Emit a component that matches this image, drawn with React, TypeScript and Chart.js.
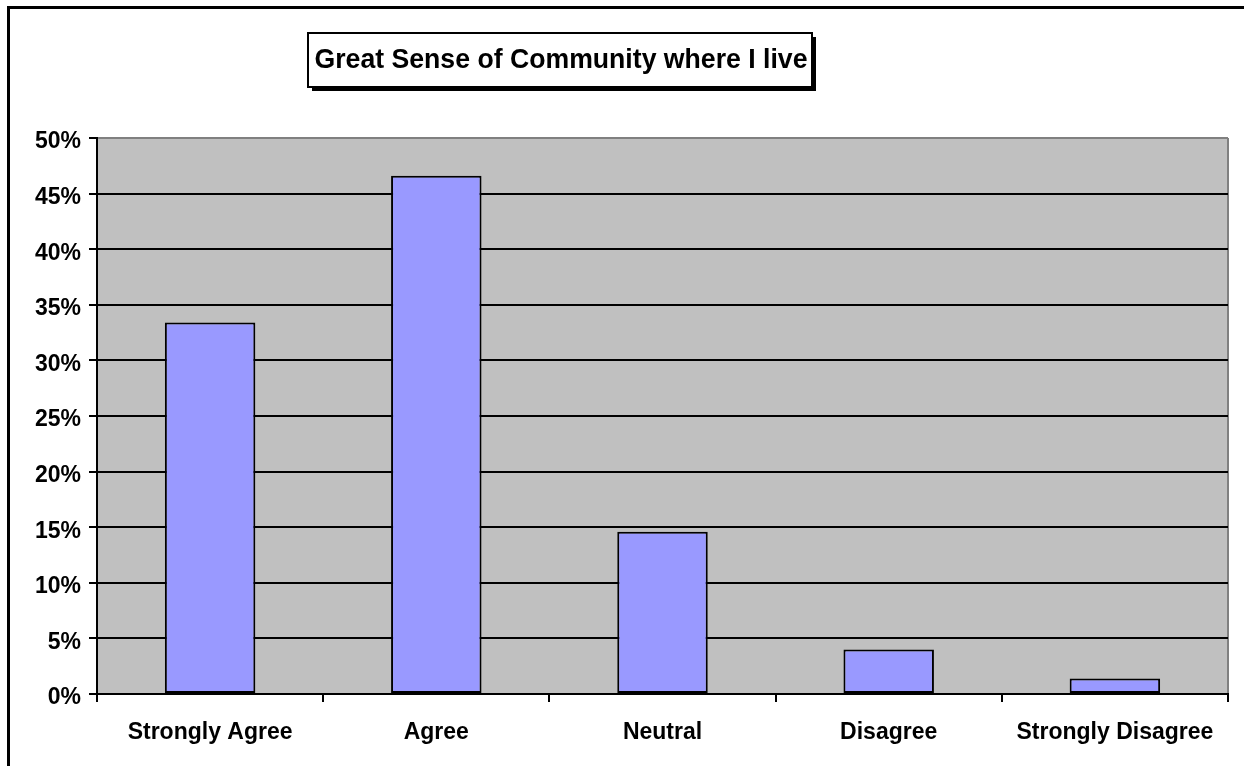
import { useEffect, useRef } from "react";
import { Chart, registerables } from "chart.js";

Chart.register(...registerables);

// Survey responses (percent of respondents)
const categories = ["Strongly Agree", "Agree", "Neutral", "Disagree", "Strongly Disagree"];
const shares = [33.4, 46.6, 14.6, 4.0, 1.4];
const titleText = "Great Sense of Community where I live";
const yMax = 50;
const yStep = 5;

const W = 1244;
const H = 766;
const FONT = "Arial, 'Liberation Sans', Helvetica, sans-serif";

const decorPlugin = {
  id: "decor",
  beforeDraw(chart: any) {
    const { ctx, chartArea } = chart;
    ctx.save();
    ctx.fillStyle = "#ffffff";
    ctx.fillRect(0, 0, W, H);
    ctx.fillStyle = "#c0c0c0";
    ctx.fillRect(chartArea.left, chartArea.top, chartArea.right - chartArea.left, chartArea.bottom - chartArea.top);
    // grey plot-area edge on the right
    ctx.strokeStyle = "#808080";
    ctx.lineWidth = 2;
    ctx.beginPath();
    ctx.moveTo(chartArea.right, chartArea.top);
    ctx.lineTo(chartArea.right, chartArea.bottom);
    ctx.stroke();
    ctx.restore();
  },
  afterDraw(chart: any) {
    const { ctx } = chart;
    ctx.save();
    // outer frame
    ctx.strokeStyle = "#000000";
    ctx.lineWidth = 3;
    ctx.beginPath();
    ctx.moveTo(8.5, H);
    ctx.lineTo(8.5, 7.5);
    ctx.lineTo(W, 7.5);
    ctx.stroke();

    // title box with drop shadow
    const bx = 308, by = 33, bw = 504, bh = 54;
    ctx.fillStyle = "#000000";
    ctx.fillRect(bx + 4, by + 4, bw, bh);
    ctx.fillStyle = "#ffffff";
    ctx.fillRect(bx, by, bw, bh);
    ctx.lineWidth = 2;
    ctx.strokeStyle = "#000000";
    ctx.strokeRect(bx, by, bw, bh);

    ctx.font = `bold 28.5px ${FONT}`;
    const tw = ctx.measureText(titleText).width;
    const sx = Math.min(1, 493 / tw);
    ctx.translate(561, 68);
    ctx.scale(sx, 1);
    ctx.fillStyle = "#000000";
    ctx.textAlign = "center";
    ctx.textBaseline = "alphabetic";
    ctx.fillText(titleText, 0, 0);
    ctx.restore();
  },
};

export default function App() {
  const canvasRef = useRef<HTMLCanvasElement | null>(null);

  useEffect(() => {
    document.body.style.margin = "0";
    const canvas = canvasRef.current;
    if (!canvas) return;
    const chart = new Chart(canvas, {
      type: "bar",
      data: {
        labels: categories,
        datasets: [
          {
            data: shares,
            backgroundColor: "#9999ff",
            borderColor: "#000000",
            borderWidth: 2,
            borderSkipped: false,
            barPercentage: 0.4,
            categoryPercentage: 1,
          },
        ],
      },
      options: {
        responsive: false,
        animation: false,
        devicePixelRatio: 1,
        layout: { padding: { left: 0, right: 16, top: 138, bottom: 0 } },
        plugins: {
          legend: { display: false },
          title: { display: false },
          tooltip: { enabled: false },
        },
        scales: {
          x: {
            offset: true,
            grid: {
              display: true,
              offset: true,
              drawOnChartArea: false,
              drawTicks: true,
              tickLength: 8,
              color: "#000000",
              lineWidth: 2,
            },
            border: { display: true, color: "#000000", width: 2 },
            ticks: {
              color: "#000000",
              padding: 17,
              maxRotation: 0,
              autoSkip: false,
              font: { family: FONT, size: 23, weight: "bold" },
            },
            afterFit(scale: any) {
              scale.height = 72;
            },
          },
          y: {
            min: 0,
            max: yMax,
            ticks: {
              stepSize: yStep,
              color: "#000000",
              padding: 8,
              labelOffset: 4,
              font: { family: FONT, size: 23, weight: "bold" },
              callback: (v: any) => `${v}%`,
            },
            grid: {
              drawTicks: true,
              tickLength: 8,
              lineWidth: 2,
              tickColor: "#000000",
              color: (c: any) => (c.tick && c.tick.value === yMax ? "#808080" : "#000000"),
            },
            border: { display: true, color: "#000000", width: 2 },
            afterFit(scale: any) {
              scale.width = 97;
            },
          },
        },
      },
      plugins: [decorPlugin],
    });
    return () => chart.destroy();
  }, []);

  return (
    <div style={{ width: W, height: H }}>
      <canvas ref={canvasRef} width={W} height={H} style={{ display: "block" }} />
    </div>
  );
}
